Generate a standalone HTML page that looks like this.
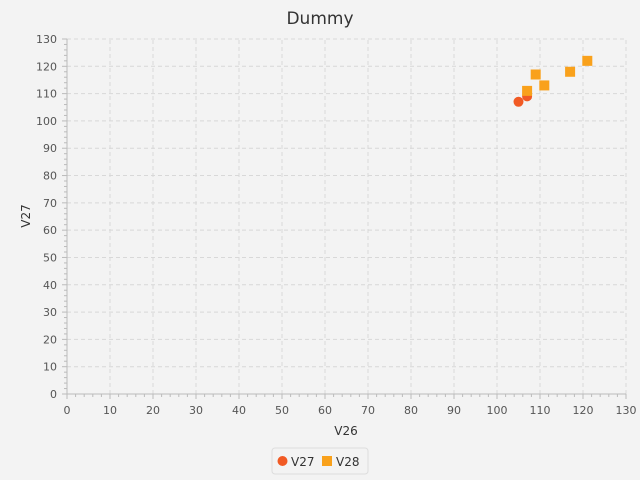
<!DOCTYPE html>
<html><head><meta charset="utf-8"><style>
html,body{margin:0;padding:0;width:640px;height:480px;overflow:hidden;background:#f3f3f3;font-family:"DejaVu Sans","Liberation Sans",sans-serif}
svg{display:block}
</style></head><body>
<svg id="c" width="640" height="480" xmlns="http://www.w3.org/2000/svg" font-family="DejaVu Sans, Liberation Sans, sans-serif">
<rect width="640" height="480" fill="#f3f3f3"/>
<text x="320" y="24" text-anchor="middle" font-size="17" fill="#333">Dummy</text>
<g id="grid"></g><g id="axes"></g><g id="marks"></g>
<text x="346" y="435" text-anchor="middle" font-size="12" fill="#333">V26</text>
<text x="30" y="216" text-anchor="middle" font-size="12" fill="#333" transform="rotate(-90 30 216)">V27</text>
<g>
<rect x="272" y="448" width="96" height="26" rx="3" fill="#f3f3f3" stroke="#ddd"/>
<g><circle cx="282.5" cy="461" r="5" fill="#f15a24"/><text x="291" y="466" font-size="12" fill="#333">V27</text></g>
<g><rect x="322" y="456" width="10" height="10" fill="#f9a11b"/><text x="336" y="466" font-size="12" fill="#333">V28</text></g>
</g>
</svg>
<script>
const xTicks=[0,10,20,30,40,50,60,70,80,90,100,110,120,130];
const yTicks=[0,10,20,30,40,50,60,70,80,90,100,110,120,130];
const v27X=[105,107];
const v27Y=[107,109];
const v28X=[107,109,111,117,121];
const v28Y=[111,117,113,118,122];
const NS="http://www.w3.org/2000/svg";
const X=v=>67+v*(559/130), Y=v=>394-v*(355/130);
function mk(t,a,p){const e=document.createElementNS(NS,t);for(const k in a)e.setAttribute(k,a[k]);p.appendChild(e);return e;}
const g=document.getElementById('grid'),ax=document.getElementById('axes'),m=document.getElementById('marks');
xTicks.forEach(v=>{
 if(v>0){const l=mk('line',{x1:X(v),x2:X(v),y1:Y(0),y2:Y(130),stroke:'#d8d8d8','stroke-dasharray':'4,3'},g);
 }
 const t=mk('text',{x:X(v),y:414,'text-anchor':'middle','font-size':11,fill:'#555'},ax);t.textContent=v;
 
});
yTicks.forEach(v=>{
 if(v>0){const l=mk('line',{x1:X(0),x2:X(130),y1:Y(v),y2:Y(v),stroke:'#d8d8d8','stroke-dasharray':'4,3'},g);
 }
 const t=mk('text',{x:57,y:Y(v)+4,'text-anchor':'end','font-size':11,fill:'#555'},ax);t.textContent=v;
 
});
for(let v=0;v<=130;v+=2){
 const big=v%10===0;
 mk('line',{x1:X(v),x2:X(v),y1:Y(0),y2:Y(0)+(big?5:3),stroke:'#bbb'},ax);
 mk('line',{x1:X(0),x2:X(0)-(big?5:3),y1:Y(v),y2:Y(v),stroke:'#bbb'},ax);
}
mk('line',{x1:X(0),x2:X(130),y1:Y(0),y2:Y(0),stroke:'#bbb'},ax);
mk('line',{x1:X(0),x2:X(0),y1:Y(0),y2:Y(130),stroke:'#bbb'},ax);
v27X.forEach((v,i)=>{const c=mk('circle',{cx:X(v),cy:Y(v27Y[i]),r:5,fill:'#f15a24'},m);
 });
v28X.forEach((v,i)=>{const r=mk('rect',{x:X(v)-5,y:Y(v28Y[i])-5,width:10,height:10,fill:'#f9a11b'},m);
 });
</script>
</body></html>
